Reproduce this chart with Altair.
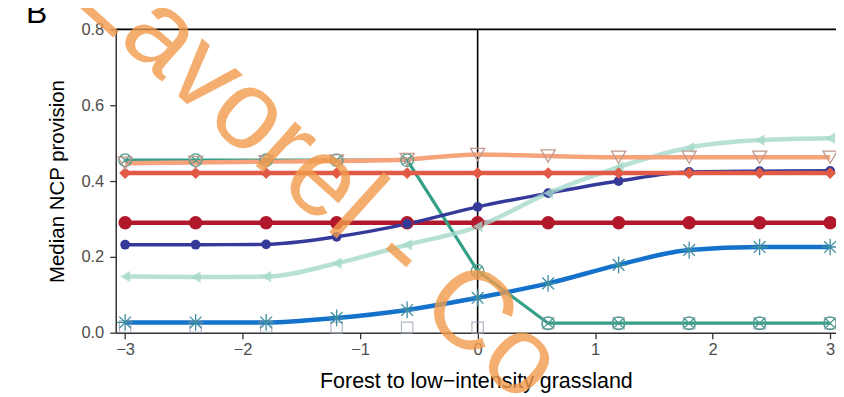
import altair as alt
import pandas as pd

# ---- data ----
x_vals = [-3, -2.4, -1.8, -1.2, -0.6, 0, 0.6, 1.2, 1.8, 2.4, 3]

s_red = [0.29, 0.29, 0.29, 0.29, 0.29, 0.29, 0.29, 0.29, 0.29, 0.29, 0.29]
s_navy = [0.232, 0.232, 0.233, 0.253, 0.287, 0.332, 0.368, 0.400, 0.424, 0.426, 0.427]
s_mint = [0.148, 0.147, 0.148, 0.183, 0.232, 0.280, 0.368, 0.437, 0.488, 0.508, 0.513]
s_blue = [0.027, 0.027, 0.027, 0.039, 0.060, 0.092, 0.130, 0.179, 0.218, 0.226, 0.226]
s_teal = [0.455, 0.455, 0.455, 0.455, 0.455, 0.163, 0.025, 0.025, 0.025, 0.025, 0.025]
s_orange = [0.447, 0.449, 0.451, 0.453, 0.457, 0.470, 0.466, 0.463, 0.463, 0.463, 0.463]
s_redorange = [0.421, 0.421, 0.421, 0.421, 0.421, 0.421, 0.421, 0.421, 0.421, 0.421, 0.421]
s_square = [0.016, 0.016, 0.016, 0.013, 0.013, 0.013, 0.025, 0.025, 0.025, 0.025, 0.025]

x_ticks = [-3, -2, -1, 0, 1, 2, 3]
y_ticks = [0.0, 0.2, 0.4, 0.6, 0.8]

x_title = "Forest to low\u2212intensity grassland"
y_title = "Median NCP provision"
panel_label = "B"
watermark = "Lavorel - Co"

ASTERISK = "M0,-1L0,1M-1,0L1,0M-0.7,-0.7L0.7,0.7M-0.7,0.7L0.7,-0.7"
CIRCLE_X = "M1,0A1,1 0 1,1 -1,0A1,1 0 1,1 1,0M-0.707,-0.707L0.707,0.707M-0.707,0.707L0.707,-0.707"

# name, values, line colour, line width, interpolation, shape, size, filled, point colour, opacity
series = [
    ("red", s_red, "#B2182B", 4.5, "linear", "circle", 180, True, "#B2182B", 1.0),
    ("teal", s_teal, "#34A088", 3.2, "linear", CIRCLE_X, 160, False, "#4F9C8E", 1.0),
    ("navy", s_navy, "#353A9A", 3.4, "monotone", "circle", 95, True, "#353A9A", 1.0),
    ("mint", s_mint, "#A6DACB", 4.5, "monotone", "triangle-left", 130, True, "#A6DACB", 0.8),
    ("blue", s_blue, "#1472CC", 4.5, "monotone", ASTERISK, 280, False, "#3E8EA3", 1.0),
    ("redorange", s_redorange, "#E05A45", 4.5, "linear", "diamond", 140, True, "#E05A45", 1.0),
    ("orange", s_orange, "#F6A27A", 4.5, "monotone", "triangle-down", 200, False, "#C09A90", 1.0),
]

rows = []
for name, vals, *_ in series:
    for xv, yv in zip(x_vals, vals):
        rows.append({"series": name, "x": xv, "y": yv})
df = pd.DataFrame(rows)
df_sq = pd.DataFrame({"x": x_vals, "y": s_square})

xscale = alt.Scale(domain=[-3.08, 3.05], nice=False, zero=False)
yscale = alt.Scale(domain=[0, 0.8], nice=False, zero=False)

FONT = "Liberation Sans"

x_axis = alt.Axis(values=x_ticks, format="d", title=x_title, grid=False,
                  domainColor="#333333", domainWidth=1.5, tickColor="#333333",
                  tickSize=6, tickWidth=1.3, labelColor="#4D4D4D", labelFontSize=16.5,
                  labelFont=FONT, titleFont=FONT, titleFontSize=21.5,
                  titleFontWeight="normal", titleColor="black", labelPadding=3,
                  titlePadding=12)
y_axis = alt.Axis(values=y_ticks, format=".1f", title=y_title, grid=False,
                  domainColor="#333333", domainWidth=1.5, tickColor="#333333",
                  tickSize=6, tickWidth=1.3, labelColor="#4D4D4D", labelFontSize=16.5,
                  labelFont=FONT, titleFont=FONT, titleFontSize=20.5,
                  titleFontWeight="normal", titleColor="black", labelPadding=6,
                  titlePadding=13)

X = alt.X("x:Q", scale=xscale, axis=x_axis)
Y = alt.Y("y:Q", scale=yscale, axis=y_axis)

layers = []

# vertical line at 0 and top border
layers.append(
    alt.Chart(pd.DataFrame({"x": [0], "y": [0.0], "y2": [0.8]})).mark_rule(
        color="black", strokeWidth=1.6
    ).encode(x=X, y=Y, y2="y2:Q")
)
layers.append(
    alt.Chart(pd.DataFrame({"x": [-3.08], "x2": [3.05], "y": [0.8]})).mark_rule(
        color="black", strokeWidth=1.6
    ).encode(x=X, x2="x2:Q", y=Y)
)

# lines
for name, vals, col, lw, interp, shape, size, filled, pcol, op in series:
    layers.append(
        alt.Chart(df[df.series == name]).mark_line(
            color=col, strokeWidth=lw, interpolate=interp, opacity=op
        ).encode(x=X, y=Y)
    )

# square markers (no line visible)
layers.append(
    alt.Chart(df_sq).mark_point(shape="square", size=130, filled=False,
                                color="#8E98B0", strokeWidth=1.2).encode(x=X, y=Y)
)

# points
for name, vals, col, lw, interp, shape, size, filled, pcol, op in series:
    layers.append(
        alt.Chart(df[df.series == name]).mark_point(
            shape=shape, size=size, filled=filled, color=pcol,
            opacity=op, strokeWidth=1.3
        ).encode(x=X, y=Y)
    )

# panel label
layers.append(
    alt.Chart(pd.DataFrame({"t": [panel_label]})).mark_text(
        align="left", baseline="alphabetic", fontSize=32, font=FONT, color="black"
    ).encode(x=alt.value(-90), y=alt.value(-6), text="t:N")
)

# watermark
layers.append(
    alt.Chart(pd.DataFrame({"t": [watermark]})).mark_text(
        align="left", baseline="alphabetic", fontSize=112, font=FONT,
        color="#F29B4C", opacity=0.8, angle=42
    ).encode(x=alt.value(-46), y=alt.value(-31), text="t:N")
)

chart = alt.layer(*layers).properties(
    width=722, height=304,
    padding={"left": 108, "top": 21, "right": 0, "bottom": 62},
    autosize=alt.AutoSizeParams(type="none"),
).configure_view(stroke=None)

chart.save("out.html", embed_options={"renderer": "svg", "actions": False})
